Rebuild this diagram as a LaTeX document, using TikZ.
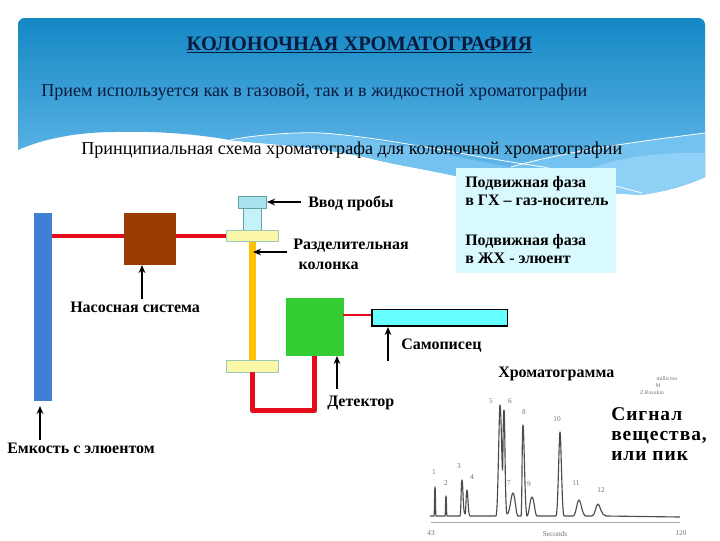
\documentclass[tikz,border=0pt]{standalone}
\usepackage{fontspec}
\setmainfont{Liberation Serif}
\usetikzlibrary{arrows.meta}
\definecolor{bgtop}{HTML}{1488C4}
\definecolor{bgbot}{HTML}{6CBDEE}
\definecolor{wave}{HTML}{74C2F0}
\definecolor{wavelight}{HTML}{8FD0F7}
\definecolor{pale}{HTML}{D8F9FE}
\definecolor{inj}{HTML}{C4F2F8}
\definecolor{injtop}{HTML}{A8E2EC}
\definecolor{edge}{HTML}{5FA3A8}
\definecolor{flange}{HTML}{FBF7A8}
\definecolor{flangeedge}{HTML}{9CC8B8}
\definecolor{pipe}{HTML}{E30E1A}
\definecolor{gold}{HTML}{FFC000}
\definecolor{tank}{HTML}{3F7FD4}
\definecolor{pump}{HTML}{993D00}
\definecolor{det}{HTML}{33CC33}
\definecolor{rec}{HTML}{66FFFF}
\definecolor{navy}{HTML}{0A1A3C}
\tikzset{
 x=0.75pt,y=-0.75pt,
 lbl/.style={font=\bfseries\fontsize{12pt}{15pt}\selectfont,align=left,anchor=west,inner sep=0pt,text=black},
 lbltwo/.style={lbl,anchor=north west,font=\bfseries\fontsize{12pt}{13pt}\selectfont},
 head/.style={font=\fontsize{13.6pt}{16pt}\selectfont,anchor=west,inner sep=0pt,text=navy},
 callout/.style={line width=1.1pt,-{Stealth[length=6pt,width=5pt]}},
 pipeline/.style={draw=pipe,line width=3.4pt},
 peak/.style={black!70,line width=0.85pt,line join=round},
 tiny/.style={font=\fontsize{5.5pt}{6.5pt}\selectfont,text=black!55,inner sep=0pt},
 tinier/.style={tiny,font=\fontsize{4.2pt}{5pt}\selectfont},
 wline/.style={white,line width=0.6pt}
}
\begin{document}
\begin{tikzpicture}
\useasboundingbox (0,0) rectangle (720,540);
\fill[white] (0,0) rectangle (720,540);
% slide background
\begin{scope}
\clip[rounded corners=5pt] (18,18) rectangle (705,300);
\clip (18,0) -- (705,0) -- (705,177) .. controls (690,184) and (665,192) .. (640,195)
  .. controls (580,190) and (510,195) .. (460,177)
  .. controls (420,168) and (395,165) .. (369,158)
  .. controls (310,145) and (250,143) .. (230,140)
  .. controls (190,133) and (150,131) .. (115,132)
  .. controls (80,132) and (45,138) .. (18,150) -- cycle;
\shade[top color=bgtop,bottom color=bgbot] (18,18) rectangle (705,190);
\fill[wave] (230,140) .. controls (260,134) and (300,132) .. (322,133)
  .. controls (380,138) and (440,155) .. (511,167) -- (640,200) -- (369,200) -- cycle;
\fill[wave] (511,167) .. controls (570,150) and (650,140) .. (705,133) -- (705,200) -- (560,200) -- cycle;
\fill[wavelight] (593,167) .. controls (630,155) and (670,152) .. (705,153) -- (705,200) -- (560,200) -- cycle;
\coordinate (w1) at (230,140);
\coordinate (w2) at (322,133);
\coordinate (w3) at (544,167);
\coordinate (w4) at (642,193);
\coordinate (w5) at (511,167);
\coordinate (w6) at (705,133);
\draw[wline] (w1) .. controls (260,134) and (300,132) .. (w2)
  .. controls (390,138) and (460,155) .. (w3) -- (w4);
\draw[wline] (w5) .. controls (570,150) and (650,140) .. (w6);
\end{scope}
\fill[pale] (456,168) rectangle (616,273);
% texts
\node[head,font=\bfseries\fontsize{15.3pt}{17pt}\selectfont,anchor=center] (title) at (359.5,45) {\underline{КОЛОНОЧНАЯ ХРОМАТОГРАФИЯ}};
\node[head] (t1) at (41,92) {Прием используется как в газовой, так и в жидкостной хроматографии};
\node[head,text=black] (t2) at (81,150) {Принципиальная схема хроматографа для колоночной хроматографии};
% apparatus
\fill[tank] (34,213) rectangle (52,401);
\coordinate (tankout) at (52,236);
\coordinate (pumpc) at (150,236);
\coordinate (flangein) at (226,236);
\draw[pipeline] (tankout) -- (pumpc) -- (flangein);
\fill[pump] (124,213) rectangle (176,265);
\draw[edge,fill=inj,line width=0.5pt] (243.5,207) rectangle (261,230);
\draw[edge,fill=injtop,line width=0.5pt] (238.5,196) rectangle (266.5,208);
\fill[gold] (249,240) rectangle (256,362);
\draw[flangeedge,fill=flange,line width=0.5pt] (226,230) rectangle (278,241);
\draw[flangeedge,fill=flange,line width=0.5pt] (226,360) rectangle (278,372);
\fill[det] (286,298) rectangle (344,356);
\draw[pipe,line width=3.7pt,line join=round] (252.5,372) -- (252.5,410.5) -- (314.5,410.5) -- (314.5,356);
\draw[pipe,line width=1.6pt] (343,315) -- (372,315);
\draw[black,fill=rec,line width=0.8pt] (372,309.5) rectangle (507.5,326);
% labels
\node[lbl] (vvod) at (308,203) {Ввод пробы};
\node[lbl] (razd) at (293,254) {Разделительная\\\hspace*{4pt}колонка};
\node[lbltwo] (gx) at (465,176.5) {Подвижная фаза\\в ГХ – газ-носитель};
\node[lbltwo] (jx) at (465,234.5) {Подвижная фаза\\в ЖХ - элюент};
\node[lbl] (nas) at (70,307) {Насосная система};
\node[lbl] (sam) at (401,346) {Самописец};
\node[lbl] (hrom) at (498,374) {Хроматограмма};
\node[lbl] (detl) at (327,403) {Детектор};
\node[lbl] (emk) at (7,448) {Емкость с элюентом};
\node[lbl,anchor=north west,font=\bfseries\fontsize{14.6pt}{15pt}\selectfont\addfontfeature{LetterSpace=5}] (sig) at (611,407.5) {Сигнал\\вещества,\\или пик};
% callouts
\coordinate (a1s) at (301,202); \coordinate (a1e) at (267,202);
\draw[callout] (a1s) -- (a1e);
\coordinate (a2s) at (287,252); \coordinate (a2e) at (253,252);
\draw[callout] (a2s) -- (a2e);
\coordinate (a3s) at (142,299); \coordinate (a3e) at (142,265);
\draw[callout] (a3s) -- (a3e);
\coordinate (a4s) at (40,440); \coordinate (a4e) at (40,406);
\draw[callout] (a4s) -- (a4e);
\coordinate (a5s) at (388,361); \coordinate (a5e) at (388,327);
\draw[callout,line width=0.8pt] (a5s) -- (a5e);
\coordinate (a6s) at (337,389); \coordinate (a6e) at (337,356);
\draw[callout,line width=0.8pt] (a6s) -- (a6e);
% chromatogram
\draw[peak] (430,516) -- (434,516) .. controls (434.5,516) and (434.5,487) .. (435,487) .. controls (435.5,487) and (435.5,516) .. (436,516)
 -- (445,516) .. controls (445.5,516) and (445.5,496) .. (446,496) .. controls (446.5,496) and (446.5,516) .. (447,516)
 -- (460,516) .. controls (461,516) and (461,480) .. (462,480) .. controls (463,480) and (463,514) .. (465,514) .. controls (466,514) and (466,490) .. (467,490) .. controls (468,490) and (468,516) .. (470,516)
 -- (496,516) .. controls (498,516) and (499,405) .. (500,405) .. controls (501,405) and (502,470) .. (502.5,470) .. controls (503,470) and (503,410) .. (504,410) .. controls (505,410) and (505,514) .. (507,514)
 .. controls (510,514) and (511,493) .. (513,493) .. controls (515,493) and (516,516) .. (518,516)
 -- (521,516) .. controls (522,516) and (522,425) .. (523,425) .. controls (524,425) and (525,516) .. (527,516)
 .. controls (529,516) and (530,497) .. (532,497) .. controls (534,497) and (535,516) .. (537,516)
 -- (556,516) .. controls (558,516) and (559,432) .. (560,432) .. controls (561,432) and (562,516) .. (564,516)
 -- (573,516) .. controls (576,516) and (577,500) .. (579,500) .. controls (581,500) and (582,516) .. (586,516)
 -- (592,516) .. controls (595,516) and (596,504) .. (598,504) .. controls (600,504) and (601,516) .. (606,516)
 -- (680,517);
\draw[black!35,line width=0.4pt] (431,522.5) -- (680,522.5);
\node[tiny] (p1) at (434,472) {1};
\node[tiny] (p2) at (446,483) {2};
\node[tiny] (p3) at (459,466) {3};
\node[tiny] (p4) at (472,477) {4};
\node[tiny] (p5) at (491,401) {5};
\node[tiny] (p6) at (510,401) {6};
\node[tiny] (p7) at (509,483) {7};
\node[tiny] (p8) at (524,412) {8};
\node[tiny] (p9) at (529,484) {9};
\node[tiny] (p10) at (557,419) {10};
\node[tiny] (p11) at (576,483) {11};
\node[tiny] (p12) at (601,490) {12};
\node[tiny] (x0) at (431,533) {43};
\node[tiny] (x1) at (555,534) {Seconds};
\node[tiny] (x2) at (681,533) {120};
\node[tinier] (l1) at (667,379) {millicron};
\node[tinier] (l2) at (658,386) {M};
\node[tinier] (l3) at (652,393) {Z.Rayukin};
\end{tikzpicture}
\end{document}
